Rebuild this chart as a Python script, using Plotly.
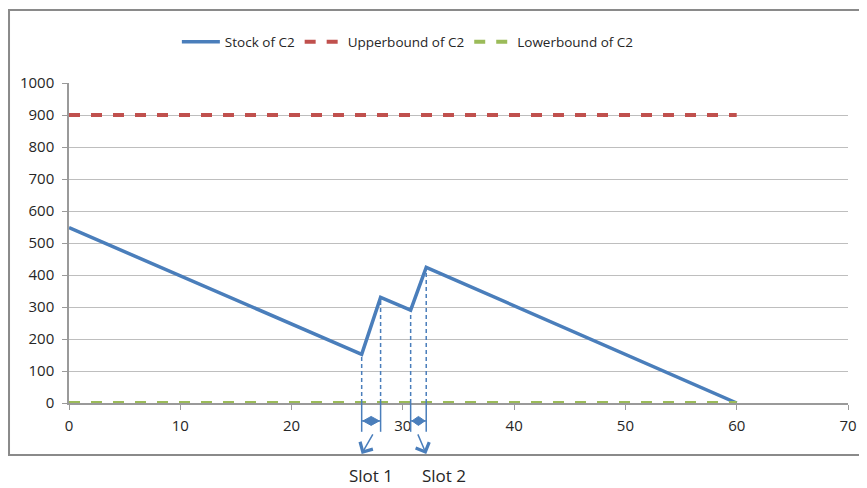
import plotly.graph_objects as go

# ---- data ----
stock_x = [0, 26.3, 28, 30.7, 32.1, 60]
stock_y = [548, 152, 330, 290, 424, 0]
bound_x = [0, 60]
upper_y = [900, 900]
lower_y = [0, 0]
slot_starts = [26.3, 30.7]
slot_ends = [28, 32.1]
slot_labels = ["Slot 1", "Slot 2"]
x_ticks = [0, 10, 20, 30, 40, 50, 60, 70]
y_ticks = [0, 100, 200, 300, 400, 500, 600, 700, 800, 900, 1000]

BLUE = "#4A7EBB"
RED = "#C0504D"
GREEN = "#9BBB59"
FONT = "Open Sans"
TXT = "#262626"

fig = go.Figure()
fig.add_trace(go.Scatter(x=stock_x, y=stock_y, mode="lines", name="Stock of C2",
                         line=dict(color=BLUE, width=3.5)))
fig.add_trace(go.Scatter(x=bound_x, y=upper_y, mode="lines", name="Upperbound of C2",
                         line=dict(color=RED, width=4, dash="11px,11px")))
fig.add_trace(go.Scatter(x=bound_x, y=lower_y, mode="lines", name="Lowerbound of C2",
                         line=dict(color=GREEN, width=4, dash="11px,11px")))

shapes = []
annotations = []


def y_at(xv):
    for i in range(len(stock_x) - 1):
        if stock_x[i] <= xv <= stock_x[i + 1]:
            t = (xv - stock_x[i]) / (stock_x[i + 1] - stock_x[i])
            return stock_y[i] + t * (stock_y[i + 1] - stock_y[i])
    return 0

ARROW_PY = -0.056   # paper y of the double arrows
for i, (s, e) in enumerate(zip(slot_starts, slot_ends)):
    for xv in (s, e):
        shapes.append(dict(type="line", xref="x", yref="y", x0=xv, x1=xv, y0=0, y1=y_at(xv),
                           line=dict(color=BLUE, width=1.5, dash="4px,3px")))
        shapes.append(dict(type="line", xref="x", yref="paper", x0=xv, x1=xv, y0=0, y1=-0.09,
                           line=dict(color=BLUE, width=1.5)))
    shapes.append(dict(type="line", xref="x", yref="paper", x0=s, x1=e,
                       y0=ARROW_PY, y1=ARROW_PY, line=dict(color=BLUE, width=1.5)))
    d = 0.12
    h = 0.014
    m = (s + e) / 2
    shapes.append(dict(type="path", xref="x", yref="paper",
                       path=f"M {s + d} {ARROW_PY} L {m} {ARROW_PY + h} L {e - d} {ARROW_PY} "
                            f"L {m} {ARROW_PY - h} Z",
                       fillcolor=BLUE, line=dict(color=BLUE, width=1)))

# pointing arrows
annotations.append(dict(x=slot_starts[0], y=-0.159, xref="x", yref="paper", text="",
                        showarrow=True, ax=12, ay=-21, axref="pixel", ayref="pixel",
                        arrowhead=4, arrowsize=1.9, arrowwidth=1.5, arrowcolor=BLUE))
annotations.append(dict(x=slot_ends[1], y=-0.159, xref="x", yref="paper", text="",
                        showarrow=True, ax=-9, ay=-21, axref="pixel", ayref="pixel",
                        arrowhead=4, arrowsize=1.9, arrowwidth=1.5, arrowcolor=BLUE))
annotations.append(dict(x=27.1, y=-0.228, xref="x", yref="paper", text=slot_labels[0],
                        yanchor="middle", showarrow=False,
                        font=dict(family=FONT, size=17, color=TXT)))
annotations.append(dict(x=33.7, y=-0.228, xref="x", yref="paper", text=slot_labels[1],
                        yanchor="middle", showarrow=False,
                        font=dict(family=FONT, size=17, color=TXT)))

# outer frame
shapes.append(dict(type="rect", xref="paper", yref="paper", x0=-0.077, x1=1.05,
                   y0=-0.1625, y1=1.228, line=dict(color="#8a8a8a", width=2), layer="below"))

fig.update_layout(
    width=851, height=480,
    margin=dict(l=61, r=11, t=75, b=85, autoexpand=False),
    paper_bgcolor="white", plot_bgcolor="white",
    font=dict(family=FONT, size=15, color=TXT),
    showlegend=True,
    legend=dict(orientation="h", x=0.435, xanchor="center", y=1.128, yanchor="middle",
                itemwidth=38,
                font=dict(family=FONT, size=13.5, color=TXT), bgcolor="rgba(0,0,0,0)"),
    shapes=shapes,
    annotations=annotations,
    xaxis=dict(range=[0, 70], tickvals=x_ticks, showgrid=False, zeroline=False,
               showline=True, linecolor="#9a9a9a", linewidth=1.5,
               ticks="outside", ticklen=5, tickcolor="#9a9a9a", ticklabelstandoff=3,
               tickfont=dict(family=FONT, size=15, color=TXT)),
    yaxis=dict(range=[0, 1000], tickvals=y_ticks, showgrid=True, gridcolor="#BEBEBE",
               gridwidth=1, zeroline=False, showline=True, linecolor="#9a9a9a", linewidth=1.5,
               ticks="outside", ticklen=5, tickcolor="#9a9a9a", ticklabelstandoff=5,
               tickfont=dict(family=FONT, size=15, color=TXT)),
)

fig.write_html("out.html")
